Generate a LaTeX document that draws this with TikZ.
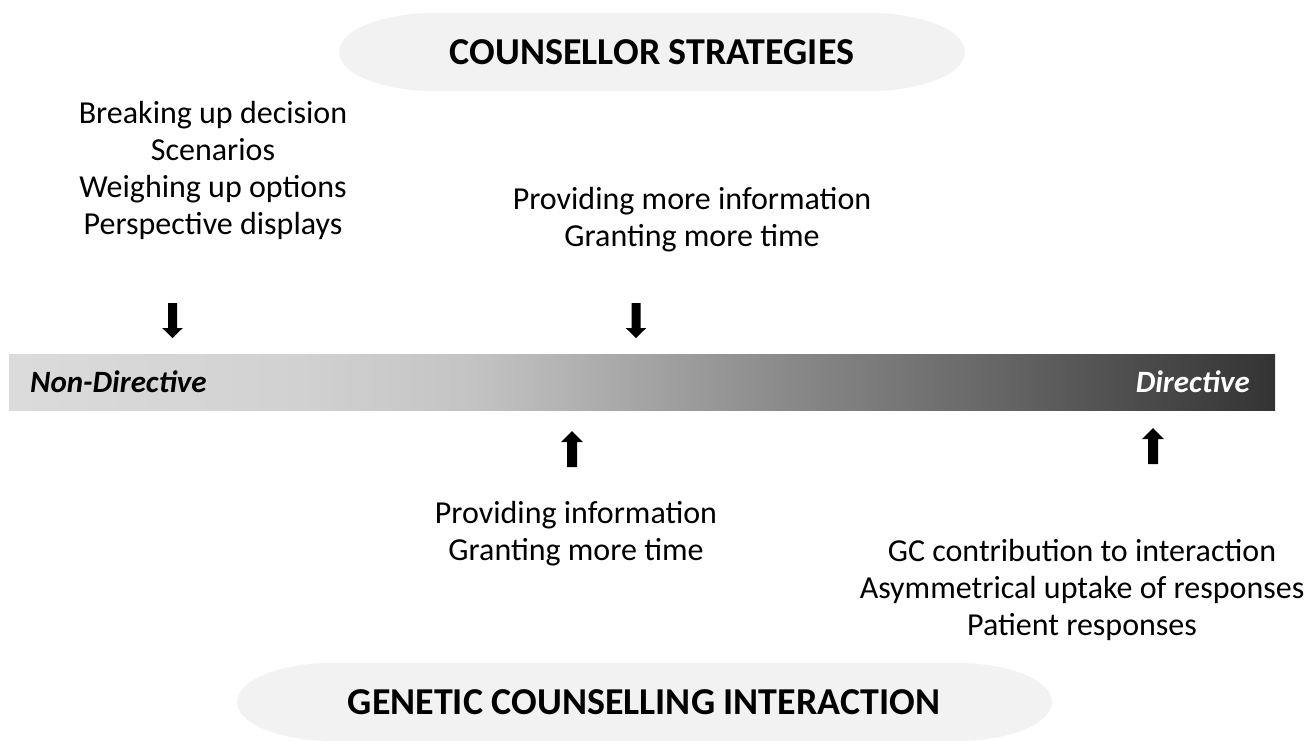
\documentclass[tikz,border=0pt]{standalone}
\usepackage{fontspec}
\setmainfont{Carlito}

% grey ramp of the directiveness scale (bounding box maps to 25bp..75bp)
\definecolor{gA}{gray}{0.86}
\definecolor{gB}{gray}{0.82}
\definecolor{gC}{gray}{0.77}
\definecolor{gD}{gray}{0.71}
\definecolor{gE}{gray}{0.645}
\definecolor{gF}{gray}{0.53}
\definecolor{gG}{gray}{0.40}
\definecolor{gH}{gray}{0.20}
\pgfdeclarehorizontalshading{scaleramp}{100bp}{%
  color(0bp)=(gA); color(25bp)=(gA); color(36.5bp)=(gB); color(43bp)=(gC);
  color(46.5bp)=(gD); color(50bp)=(gE); color(56.25bp)=(gF); color(64bp)=(gG);
  color(75bp)=(gH); color(100bp)=(gH)}
\definecolor{pillgrey}{HTML}{F2F2F2}

\tikzset{
  body/.style={font=\fontsize{32}{37}\selectfont, align=center, inner sep=0pt},
  heading/.style={font=\fontsize{38}{44}\selectfont\bfseries, inner sep=0pt},
  scalelabel/.style={font=\fontsize{31}{37}\selectfont\bfseries\itshape, inner sep=0pt},
  pill/.style={fill=pillgrey},
  downarrow/.pic={\fill (-4.5,-35) -- (4.5,-35) -- (4.5,-10) -- (10.3,-10) -- (0,0)
                    -- (-10.3,-10) -- (-4.5,-10) -- cycle;},
  uparrow/.pic={\fill (-5,36) -- (5,36) -- (5,11) -- (10.8,11) -- (0,0)
                    -- (-10.8,11) -- (-5,11) -- cycle;}
}

\begin{document}
\begin{tikzpicture}[x=1pt,y=-1pt]
\useasboundingbox (0,0) rectangle (1308,740);

% heading capsules
\fill[pill] (434,13) -- (870,13) arc[start angle=-90,end angle=90,x radius=95,y radius=39]
  -- (434,91) arc[start angle=90,end angle=270,x radius=95,y radius=39] -- cycle;
\node[heading] (strategies) at (652,52) {COUNSELLOR STRATEGIES};

\fill[pill] (332,663) -- (957,663) arc[start angle=-90,end angle=90,x radius=95,y radius=39]
  -- (332,741) arc[start angle=90,end angle=270,x radius=95,y radius=39] -- cycle;
\node[heading] (interaction) at (644,702) {GENETIC COUNSELLING INTERACTION};

% counsellor strategies above the scale
\node[body] (decision) at (213,170.5)
  {Breaking up decision\\Scenarios\\Weighing up options\\Perspective displays};
\node[body] (moreinfo) at (692,219.5)
  {Providing more information\\Granting more time};

% the directiveness scale
\node[shading=scaleramp, minimum width=1266pt, minimum height=56pt, inner sep=0pt]
  (scale) at (642,382) {};
\node[scalelabel, anchor=west] (nondir) at (30,382) {Non-Directive};
\node[scalelabel, anchor=east, text=white] (dir) at (1250,382) {Directive};

% interaction features below the scale
\node[body] (info) at (576,533.5)
  {Providing information\\Granting more time};
\node[body] (gc) at (1082,590)
  {GC contribution to interaction\\Asymmetrical uptake of responses\\Patient responses};

% block arrows towards the scale
\pic (arrA) at (172.5,338) {downarrow};
\pic (arrB) at (636,338) {downarrow};
\pic (arrC) at (572,431) {uparrow};
\pic (arrD) at (1153,428) {uparrow};
\end{tikzpicture}
\end{document}
